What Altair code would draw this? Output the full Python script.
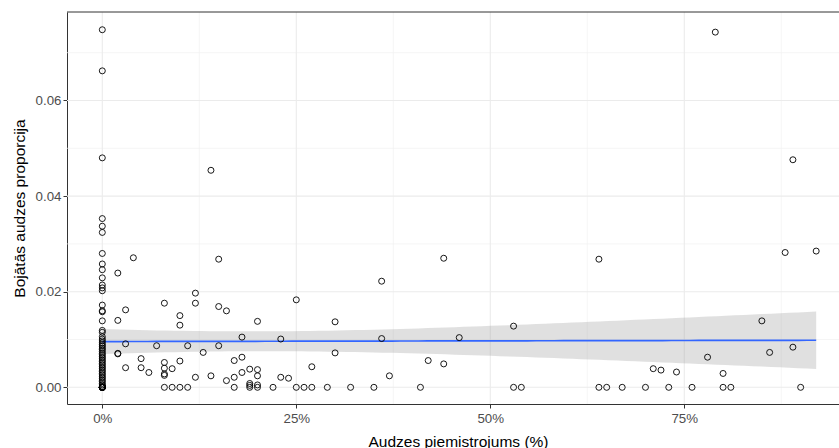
import altair as alt
import numpy as np
import pandas as pd

# Damaged-stand proportion in pure stands (admixture 0 %); zero-damage stands overlap at the origin
pure_prop = [
    0.0748, 0.0662, 0.0480, 0.0353, 0.0337, 0.0324, 0.0280, 0.0258, 0.0246,
    0.0229, 0.0214, 0.0208, 0.0202, 0.0172, 0.0160, 0.0158, 0.0139, 0.0119,
    0.0115, 0.0106, 0.0101, 0.0097, 0.0093, 0.0089, 0.0086, 0.0082, 0.0079,
    0.0075, 0.0071, 0.0068, 0.0064, 0.0061, 0.0057, 0.0054, 0.0050, 0.0047,
    0.0043, 0.0040, 0.0036, 0.0033, 0.0029, 0.0026, 0.0022, 0.0019, 0.0015,
    0.0012, 0.0008, 0.0005, 0.0002, 0.0, 0.0, 0.0, 0.0, 0.0, 0.0, 0.0, 0.0,
    0.0, 0.0, 0.0,
]

# Mixed stands: admixture share (fraction) and damaged-stand proportion
mixed_share = [
    0.02, 0.02, 0.02, 0.02, 0.03, 0.03, 0.03, 0.04, 0.05, 0.05, 0.06, 0.07,
    0.08, 0.08, 0.08, 0.08, 0.08, 0.08, 0.09, 0.09, 0.10, 0.10, 0.10, 0.10,
    0.11, 0.11, 0.12, 0.12, 0.12, 0.13, 0.14, 0.14, 0.15, 0.15, 0.15, 0.16,
    0.16, 0.17, 0.17, 0.17, 0.18, 0.18, 0.18, 0.19, 0.19, 0.19, 0.19, 0.20,
    0.20, 0.20, 0.20, 0.20, 0.22, 0.23, 0.23, 0.24, 0.25, 0.25, 0.26, 0.27,
    0.27, 0.29, 0.30, 0.30, 0.32, 0.35, 0.36, 0.36, 0.37, 0.41, 0.42, 0.44,
    0.44, 0.46, 0.53, 0.53, 0.54, 0.64, 0.64, 0.65, 0.67, 0.70, 0.71, 0.72,
    0.73, 0.74, 0.76, 0.78, 0.79, 0.80, 0.80, 0.81, 0.85, 0.86, 0.88, 0.89,
    0.89, 0.90, 0.92,
]
mixed_prop = [
    0.0239, 0.0140, 0.0071, 0.0070, 0.0162, 0.0091, 0.0041, 0.0271, 0.0060,
    0.0041, 0.0031, 0.0087, 0.0176, 0.0052, 0.0040, 0.0028, 0.0025, 0.0,
    0.0039, 0.0, 0.0150, 0.0130, 0.0055, 0.0, 0.0087, 0.0, 0.0197, 0.0176,
    0.0021, 0.0073, 0.0454, 0.0024, 0.0268, 0.0169, 0.0087, 0.0160, 0.0014,
    0.0056, 0.0021, 0.0, 0.0105, 0.0063, 0.0031, 0.0038, 0.0008, 0.0004, 0.0,
    0.0138, 0.0037, 0.0024, 0.0005, 0.0, 0.0, 0.0101, 0.0021, 0.0019, 0.0183,
    0.0, 0.0, 0.0043, 0.0, 0.0, 0.0137, 0.0072, 0.0, 0.0, 0.0222, 0.0102,
    0.0024, 0.0, 0.0056, 0.0270, 0.0049, 0.0104, 0.0128, 0.0, 0.0, 0.0268,
    0.0, 0.0, 0.0, 0.0, 0.0039, 0.0036, 0.0, 0.0032, 0.0, 0.0063, 0.0743,
    0.0029, 0.0, 0.0, 0.0139, 0.0073, 0.0282, 0.0476, 0.0084, 0.0, 0.0285,
]

# Axis ticks and grid positions
x_major = [0.0, 0.25, 0.5, 0.75]
x_minor = [0.125, 0.375, 0.625, 0.875]
y_major = [0.0, 0.02, 0.04, 0.06]
y_minor = [0.01, 0.03, 0.05, 0.07]

points = pd.DataFrame({
    "x": [0.0] * len(pure_prop) + mixed_share,
    "y": pure_prop + mixed_prop,
})

# Ordinary least-squares fit with a 95 % confidence band (as geom_smooth(method="lm"))
X = points["x"].to_numpy()
Y = points["y"].to_numpy()
n = len(X)
xm, ym = X.mean(), Y.mean()
sxx = ((X - xm) ** 2).sum()
slope = ((X - xm) * (Y - ym)).sum() / sxx
icpt = ym - slope * xm
s2 = ((Y - (icpt + slope * X)) ** 2).sum() / (n - 2)
dfree = n - 2
z = 1.959964
tq = z + (z ** 3 + z) / (4 * dfree)
xs_fit = np.linspace(X.min(), X.max(), 80)
fit = icpt + slope * xs_fit
se = np.sqrt(s2 * (1.0 / n + (xs_fit - xm) ** 2 / sxx))
fit_df = pd.DataFrame({"x": xs_fit, "y": fit, "lo": fit - tq * se, "hi": fit + tq * se})

FONT = "Liberation Sans"
W, H = 772, 392

xscale = alt.Scale(domain=[-0.0455, 0.9494], nice=False, zero=False)
yscale = alt.Scale(domain=[-0.00349, 0.07851], nice=False, zero=False)

x_axis = alt.Axis(
    values=x_major, format=".0%", grid=False, title="Audzes piemistrojums (%)",
    domainColor="#333333", domainWidth=1, tickColor="#333333", tickSize=4,
    labelColor="#4d4d4d", labelFontSize=13.3, labelFont=FONT, labelPadding=3,
    titleFont=FONT, titleFontSize=15.5, titleFontWeight="normal", titleColor="#000000",
    titleBaseline="alphabetic", titleY=42, titleX=391,
)
y_axis = alt.Axis(
    values=y_major, format=".2f", grid=False, title="Bojātās audzes proporcija",
    domainColor="#333333", domainWidth=1, tickColor="#333333", tickSize=4,
    labelColor="#4d4d4d", labelFontSize=13.3, labelFont=FONT, labelPadding=2,
    titleFont=FONT, titleFontSize=15.5, titleFontWeight="normal", titleColor="#000000",
    titleBaseline="alphabetic", titleX=-42.5, titleY=H / 2, titleAngle=270,
)

one = pd.DataFrame({"k": [0]})

vgrid_major = alt.Chart(pd.DataFrame({"x": x_major})).mark_rule(
    color="#ebebeb", strokeWidth=1.1).encode(x=alt.X("x:Q", scale=xscale, axis=x_axis))
vgrid_minor = alt.Chart(pd.DataFrame({"x": x_minor})).mark_rule(
    color="#f0f0f0", strokeWidth=0.7).encode(x=alt.X("x:Q", scale=xscale, axis=x_axis))
hgrid_major = alt.Chart(pd.DataFrame({"y": y_major})).mark_rule(
    color="#ebebeb", strokeWidth=1.1).encode(y=alt.Y("y:Q", scale=yscale, axis=y_axis))
hgrid_minor = alt.Chart(pd.DataFrame({"y": y_minor})).mark_rule(
    color="#f0f0f0", strokeWidth=0.7).encode(y=alt.Y("y:Q", scale=yscale, axis=y_axis))

band = alt.Chart(fit_df).mark_area(color="#999999", opacity=0.3).encode(
    x=alt.X("x:Q", scale=xscale, axis=x_axis),
    y=alt.Y("lo:Q", scale=yscale, axis=y_axis),
    y2="hi:Q",
)
line = alt.Chart(fit_df).mark_line(color="#3366ff", strokeWidth=1.7).encode(
    x=alt.X("x:Q", scale=xscale, axis=x_axis),
    y=alt.Y("y:Q", scale=yscale, axis=y_axis),
)
dots = alt.Chart(points).mark_point(
    shape="circle", filled=False, color="#000000", size=36, strokeWidth=0.9, opacity=1,
).encode(
    x=alt.X("x:Q", scale=xscale, axis=x_axis),
    y=alt.Y("y:Q", scale=yscale, axis=y_axis),
)
top_border = alt.Chart(one).mark_rule(color="#333333", strokeWidth=1).encode(
    x=alt.value(0), x2=alt.value(W), y=alt.value(0))

chart = alt.layer(
    vgrid_minor, hgrid_minor, vgrid_major, hgrid_major, band, line, dots, top_border
).properties(
    width=W, height=H,
    padding={"left": 67, "top": 12, "right": 0, "bottom": 44},
    autosize=alt.AutoSizeParams(type="none"),
    background="#ffffff",
).configure_view(strokeWidth=0)

chart.save("out.html", embed_options={"renderer": "svg", "actions": False})
